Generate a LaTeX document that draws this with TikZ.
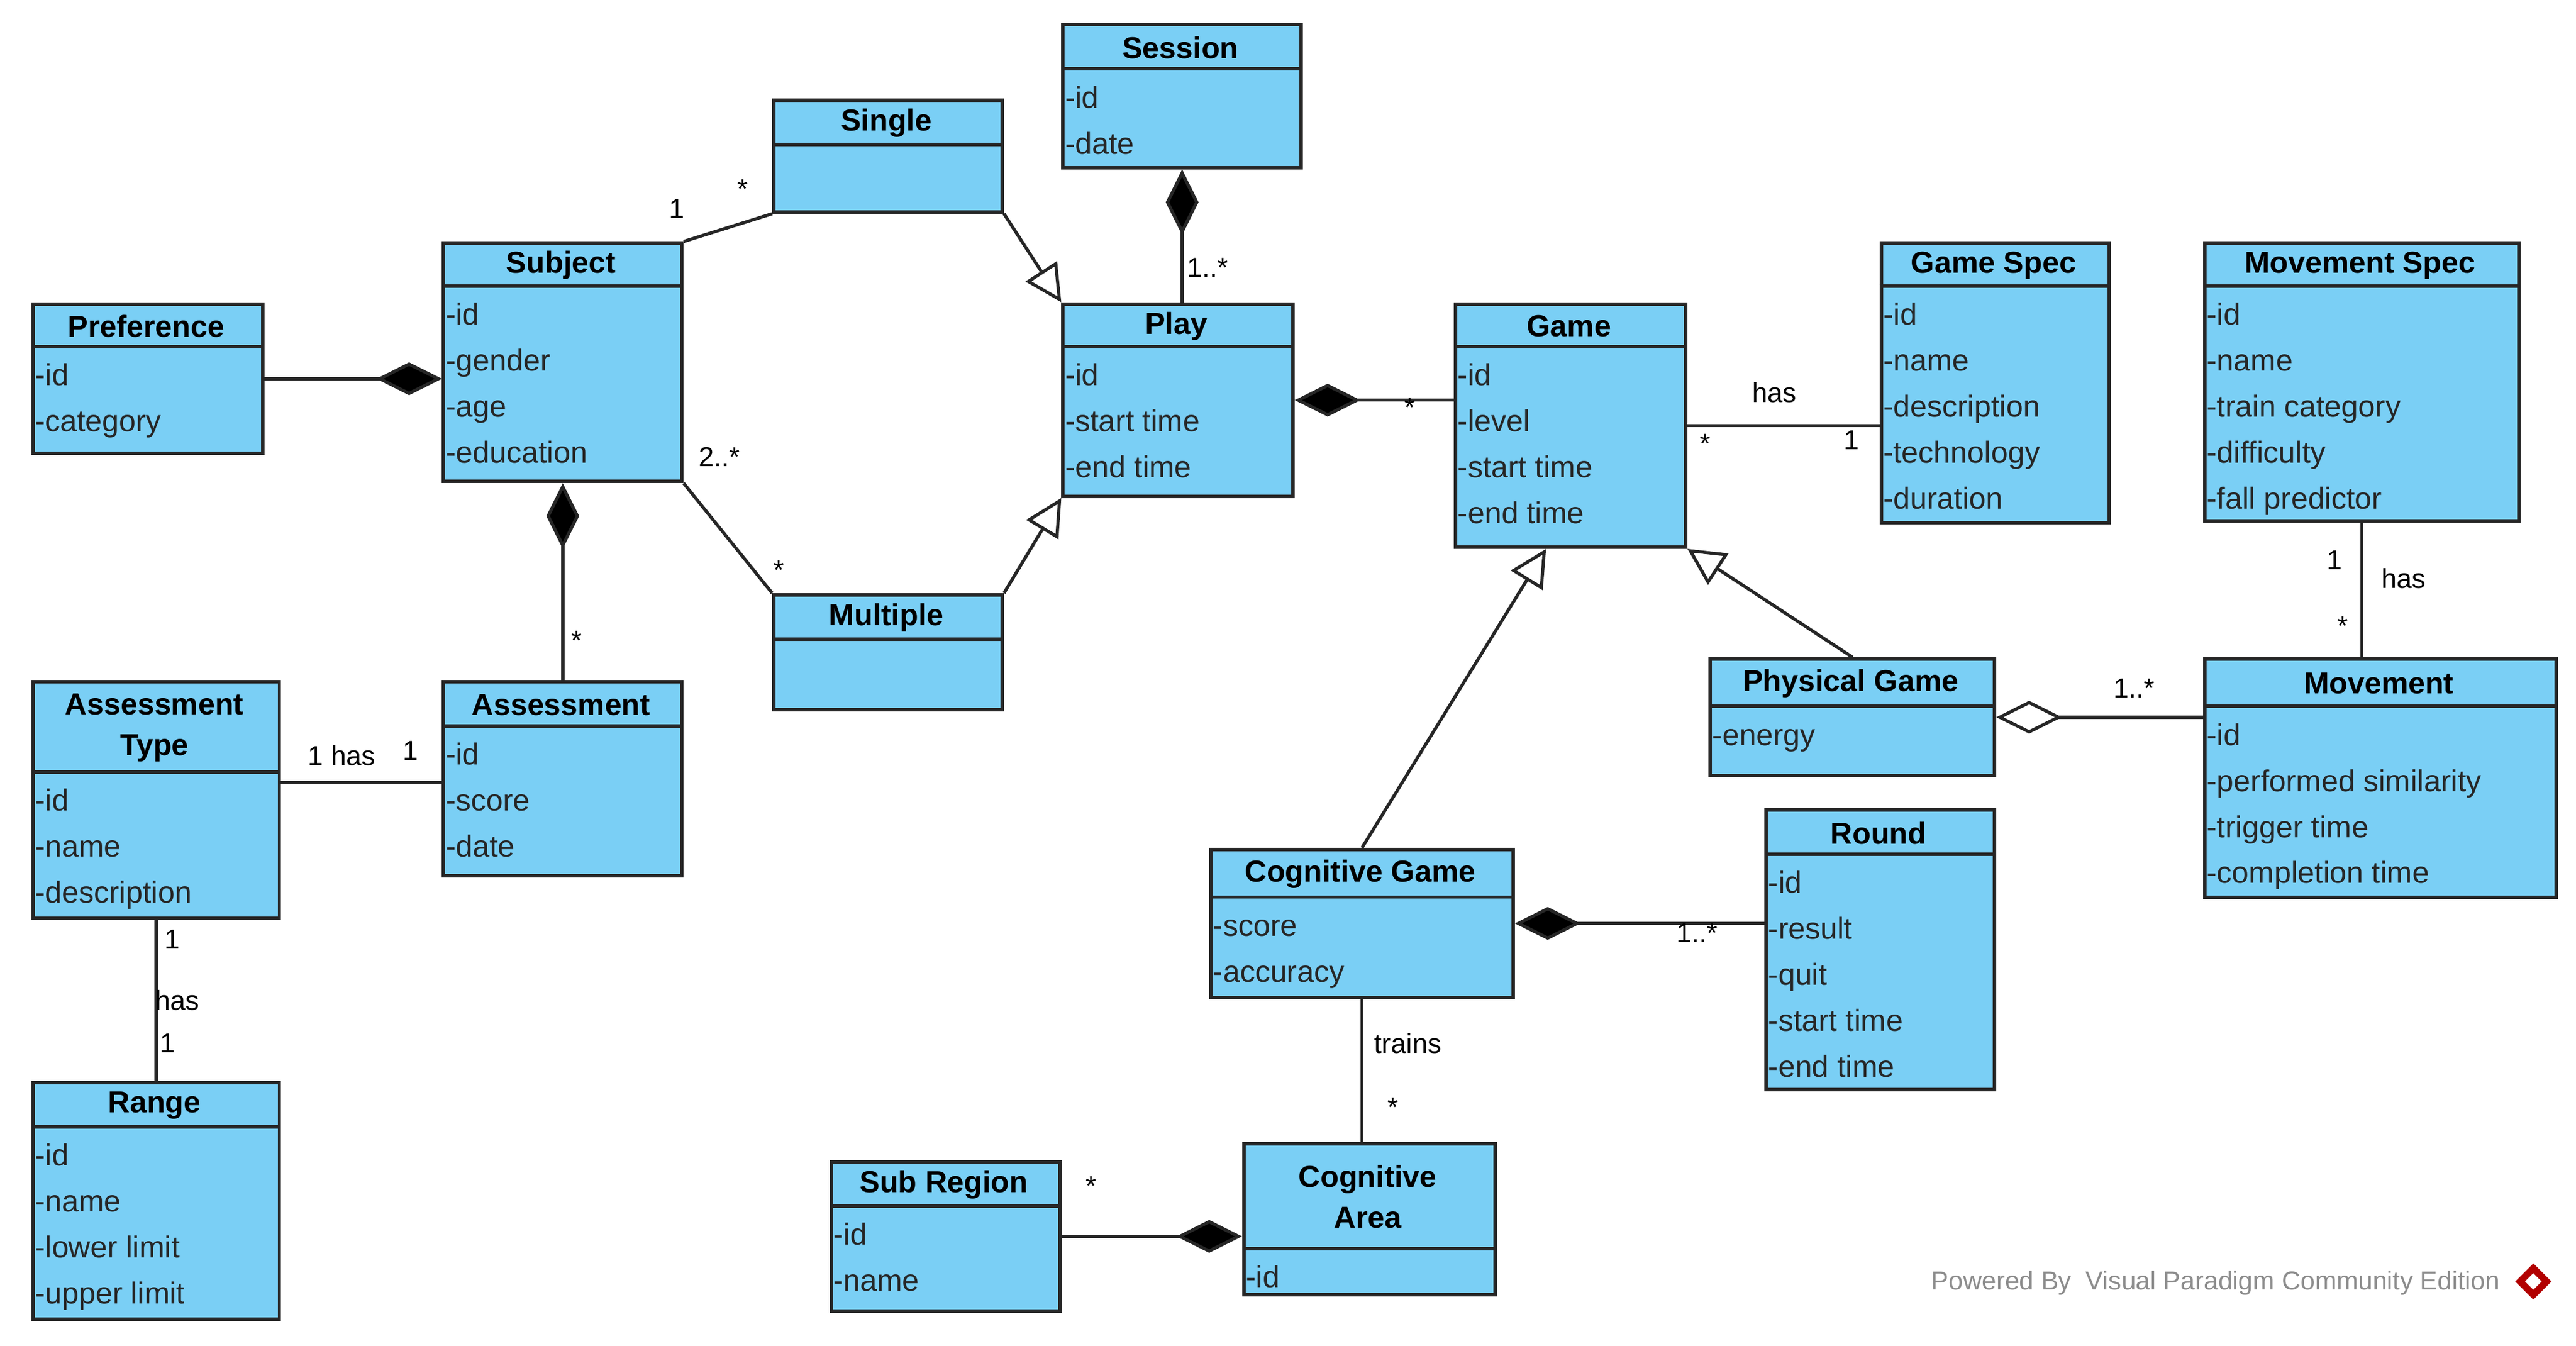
\documentclass[tikz,border=0pt]{standalone}
\usepackage{fontspec}
\setmainfont{Liberation Sans}
\usetikzlibrary{arrows.meta,calc}
\definecolor{clsblue}{RGB}{122,207,245}
\tikzset{
 cls/.style={draw=black!85, line width=1.2pt, fill=clsblue, anchor=north west, inner sep=0pt},
 ttl/.style={font=\bfseries\fontsize{10.5}{14}\selectfont, align=center, inner sep=0pt},
 attr/.style={font=\fontsize{10.5}{13}\selectfont, text=black!85, anchor=west, inner sep=0pt, text height=7.5pt, text depth=2.2pt},
 lbl/.style={font=\fontsize{9.5}{12}\selectfont, inner sep=0pt},
 conn/.style={draw=black!85, line width=1.1pt},
 comp/.style={conn, -{Diamond[length=0.8cm,width=0.4cm,fill=black]}},
 compS/.style={conn, {Diamond[length=0.8cm,width=0.4cm,fill=black]}-},
 aggS/.style={conn, {Diamond[open,length=0.8cm,width=0.4cm,fill=white]}-},
 gen/.style={conn, -{Triangle[open,length=0.45cm,width=0.45cm,fill=white]}},
}
\newcommand\ucls[8]{%
 \node[cls, minimum width={(#4-#2)*0.02cm}, minimum height={(#5-#3)*0.02cm}] (#1) at (#2,#3) {};
 \draw[draw=black!85, line width=1.2pt] (#2,#6) -- (#4,#6);
 \node[ttl] at ({(#2+#4)/2},{(#3+#6)/2+1}) {#7};
 \foreach \a [count=\i] in {#8} \node[attr] at (#2+2,{#6+19+(\i-1)*28}) {\a};
}
\begin{document}
\begin{tikzpicture}[x=0.02cm,y=-0.02cm]
\useasboundingbox (0,0) rectangle (1568,819);
\ucls{sess}{646}{14}{791}{101}{42}{Session}{-id,-date}
\ucls{sing}{470}{60}{609}{128}{88}{Single}{}
\ucls{subj}{269}{147}{414}{292}{174}{Subject}{-id,-gender,-age,-education}
\ucls{pref}{19}{184}{159}{275}{211}{Preference}{-id,-category}
\ucls{play}{646}{184}{786}{301}{211}{Play}{-id,-start time,-end time}
\ucls{game}{885}{184}{1025}{332}{211}{Game}{-id,-level,-start time,-end time}
\ucls{gspec}{1144}{147}{1283}{317}{174}{Game Spec}{-id,-name,-description,-technology,-duration}
\ucls{mspec}{1341}{147}{1532}{316}{174}{Movement Spec}{-id,-name,-train category,-difficulty,-fall predictor}
\ucls{mult}{470}{361}{609}{431}{389}{Multiple}{}
\ucls{atype}{19}{414}{169}{558}{470}{Assessment\\Type}{-id,-name,-description}
\ucls{asmt}{269}{414}{414}{532}{442}{Assessment}{-id,-score,-date}
\ucls{phys}{1040}{400}{1213}{471}{430}{Physical Game}{-energy}
\ucls{move}{1341}{400}{1555}{545}{430}{Movement}{-id,-performed similarity,-trigger time,-completion time}
\ucls{round}{1074}{492}{1213}{662}{520}{Round}{-id,-result,-quit,-start time,-end time}
\ucls{cog}{736}{516}{920}{606}{546}{Cognitive Game}{-score,-accuracy}
\ucls{range}{19}{658}{169}{802}{686}{Range}{-id,-name,-lower limit,-upper limit}
\ucls{subr}{505}{706}{644}{797}{734}{Sub Region}{-id,-name}
\ucls{carea}{756}{695}{909}{787}{760}{Cognitive\\Area}{-id}

\draw[comp] (pref.east) -- (pref.east -| subj.west);
\draw[conn] (subj.north east) -- (sing.south west);
\node[lbl] at (412,127) {1}; \node[lbl] at (452,115) {*};
\draw[conn] (subj.south east) -- (mult.north west);
\node[lbl] at (438,278) {2..*}; \node[lbl] at (474,347) {*};
\draw[gen] (sing.south east) -- (play.north west);
\draw[gen] (mult.north east) -- (play.south west);
\draw[compS] (sess.south) -- (sess.south |- play.north);
\node[lbl] at (735,163) {1..*};
\draw[compS] (play.east) -- (play.east -| game.west);
\node[lbl] at (858,248) {*};
\draw[compS] (subj.south) -- (asmt.north);
\node[lbl] at (351,390) {*};
\draw[conn] ($(atype.east)+(0,-11)$) -- ($(atype.east -| asmt.west)+(0,-11)$);
\node[lbl] at (208,460) {1 has}; \node[lbl] at (250,457) {1};
\draw[conn] (atype.south) -- (range.north);
\node[lbl] at (105,572) {1}; \node[lbl] at (108,609) {has}; \node[lbl] at (102,635) {1};
\draw[conn] (game.east) -- (game.east -| gspec.west);
\node[lbl] at (1080,239) {has}; \node[lbl] at (1038,270) {*}; \node[lbl] at (1127,268) {1};
\draw[conn] (mspec.south) -- (mspec.south |- move.north);
\node[lbl] at (1421,341) {1}; \node[lbl] at (1463,352) {has}; \node[lbl] at (1426,381) {*};
\draw[aggS] (phys.east) -- (phys.east -| move.west);
\node[lbl] at (1299,419) {1..*};
\draw[gen] (phys.north) -- (game.south east);
\draw[gen] (cog.north) -- ($(game.south)+(-15,0)$);
\draw[compS] (cog.east) -- (cog.east -| round.west);
\node[lbl] at (1033,568) {1..*};
\draw[conn] (cog.south) -- (cog.south |- carea.north);
\node[lbl] at (857,635) {trains}; \node[lbl] at (848,674) {*};
\draw[comp] (subr.east) -- (subr.east -| carea.west);
\node[lbl] at (664,722) {*};

\node[font=\fontsize{9}{11}\selectfont, text=black!45, anchor=east, inner sep=0pt] (wm) at (1522,781) {Powered By\ \ Visual Paradigm Community Edition};
\fill[red!70!black] (1542,769) -- (1553,780) -- (1542,791) -- (1531,780) -- cycle;
\fill[white] (1542,775) -- (1547,780) -- (1542,785) -- (1537,780) -- cycle;
\end{tikzpicture}
\end{document}
